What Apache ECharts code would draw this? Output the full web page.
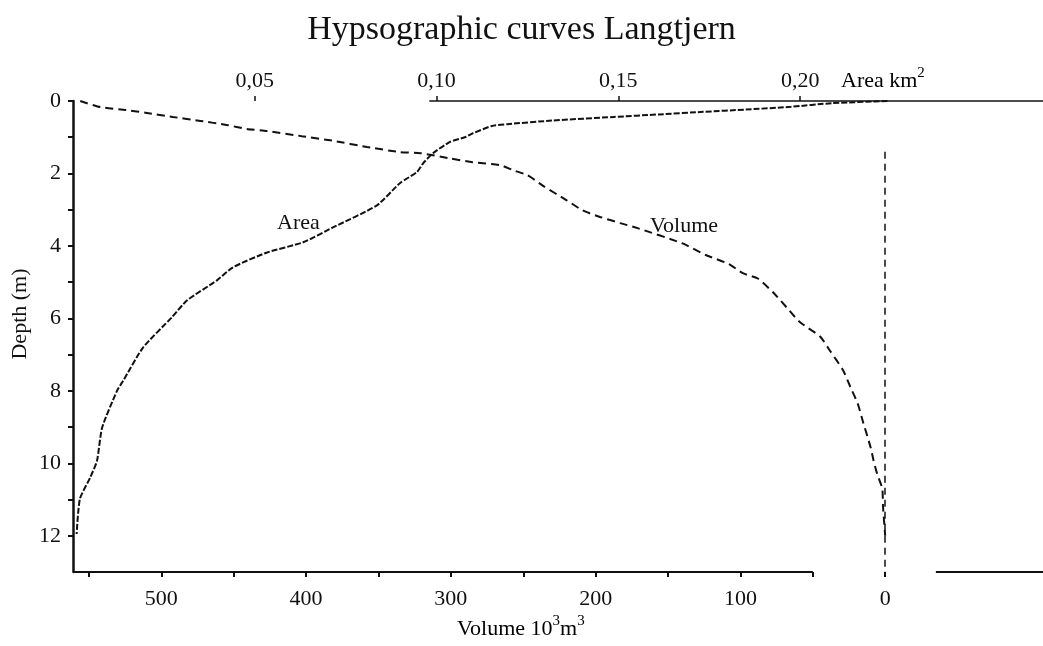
<!DOCTYPE html>
<html><head><meta charset="utf-8">
<script src="https://cdn.jsdelivr.net/npm/echarts@6/dist/echarts.min.js"></script>
<style>html,body{margin:0;padding:0;background:#fff}#c{width:1043px;height:646px}</style>
</head><body><div id="c"></div>
<script>
// ---- data ----
const depthTicks = [0,1,2,3,4,5,6,7,8,9,10,11,12];
const depthLabels = [0,2,4,6,8,10,12];
const areaTicks = [0.05,0.10,0.15,0.20];
const volumeTicks = [0,50,100,150,200,250,300,350,400,450,500,550];
const volumeLabels = [0,100,200,300,400,500];

// Area curve (km2) vs depth (m)
const areaKm2 =  [0.224,0.2087,0.1975,0.1851,0.1733,0.1612,0.1488,0.1317,0.1194,0.1152,0.110,0.1078,0.1037,0.099,0.0963,0.0946,0.0899,0.0836,0.0715,0.0633,0.0534,0.044,0.0396,0.0314,0.0272,0.0193,0.0138,0.0121,0.008,0.0066,0.0047,0.0019,0.001];
const areaDepth = [0,0.06,0.16,0.235,0.30,0.37,0.44,0.54,0.64,0.69,0.89,1.0,1.13,1.44,1.72,1.96,2.27,2.88,3.49,3.9,4.18,4.59,4.95,5.5,5.97,6.8,7.72,8.0,9.02,9.93,10.4,10.98,11.95];

// Volume curve (10^3 m3) vs depth (m)
const volume =      [556,542,524,510,492,473,455,441,427,403,381,358,335,321,301,285,266,257,247,236,220,209,197,183,171,140,124,108,98,88,77,68,59,45,38,29,24,19,15,10,8,5.5,2,1.5,0];
const volumeDepth = [0,0.17,0.25,0.33,0.44,0.55,0.66,0.77,0.83,0.97,1.1,1.27,1.41,1.44,1.58,1.69,1.77,1.91,2.05,2.35,2.74,3.02,3.2,3.37,3.51,3.93,4.25,4.5,4.76,4.9,5.3,5.7,6.1,6.5,6.9,7.44,7.9,8.35,8.9,9.57,9.93,10.3,10.7,11.2,12];

// ---- chart ----
const FONT = "'Liberation Serif','Times New Roman',serif";
const INK = '#111';
const chart = echarts.init(document.getElementById('c'), null, {renderer:'canvas'});
const fmtComma = v => Number(v).toFixed(2).replace('.', ',');
const supRich = {
  a:{fontFamily:FONT, fontSize:22, lineHeight:26, verticalAlign:'bottom', color:INK},
  s:{fontFamily:FONT, fontSize:15, lineHeight:15, verticalAlign:'top', color:INK}
};

chart.setOption({
  backgroundColor:'#fff',
  animation:false,
  title:{text:'Hypsographic curves Langtjern', left:'center', top:8,
    textStyle:{fontFamily:FONT, fontSize:34, fontWeight:'normal', color:INK}},
  grid:{left:73, right:0, top:101, bottom:74, containLabel:false},
  xAxis:[
    {type:'value', position:'bottom', inverse:true, min:-109, max:561,
     axisLine:{show:false, onZero:false},
     axisTick:{show:true, length:5, inside:false, lineStyle:{color:INK, width:2}, customValues:volumeTicks},
     axisLabel:{color:INK, fontFamily:FONT, fontSize:22, margin:16, customValues:volumeLabels},
     splitLine:{show:false}},
    {type:'value', position:'top', min:0, max:0.2668,
     axisLine:{show:false, onZero:false},
     axisTick:{show:true, length:5, lineStyle:{color:INK, width:1.5}, customValues:areaTicks},
     axisLabel:{color:INK, fontFamily:FONT, fontSize:22, margin:9, customValues:areaTicks, formatter:fmtComma},
     splitLine:{show:false}}
  ],
  yAxis:[{type:'value', inverse:true, min:0, max:13,
    axisLine:{show:true, onZero:false, lineStyle:{color:INK, width:2.5}},
    axisTick:{show:true, length:5, lineStyle:{color:INK, width:2}, customValues:depthTicks},
    axisLabel:{color:INK, fontFamily:FONT, fontSize:22, margin:12, customValues:depthLabels},
    splitLine:{show:false}}],
  series:[
    {name:'Area', type:'line', xAxisIndex:1, yAxisIndex:0, smooth:0.2, showSymbol:false,
     data: areaKm2.map((a,i)=>[a, areaDepth[i]]),
     lineStyle:{color:INK, width:2, type:[6,2]},
     markLine:{silent:true, symbol:['none','none'], label:{show:false},
       lineStyle:{color:INK, width:1.5, type:'solid'},
       data:[[{coord:[0.098,0]},{coord:[0.2668,0]}]]}},
    {name:'Volume', type:'line', xAxisIndex:0, yAxisIndex:0, smooth:0.2, showSymbol:false,
     data: volume.map((v,i)=>[v, volumeDepth[i]]),
     lineStyle:{color:INK, width:2, type:[8,5]},
     markLine:{silent:true, symbol:['none','none'], label:{show:false},
       data:[
         [{coord:[0,1.4], lineStyle:{color:INK, width:1.5, type:[7,5]}},{coord:[0,13]}],
         [{coord:[561,13], lineStyle:{color:INK, width:2, type:'solid'}},{coord:[50,13]}],
         [{coord:[-35,13], lineStyle:{color:INK, width:2, type:'solid'}},{coord:[-109,13]}]
       ]}}
  ],
  graphic:[
    {type:'text', left:841, top:66, style:{text:'{a|Area km}{s|2}', rich:supRich}},
    {type:'text', left:457, top:614, style:{text:'{a|Volume 10}{s|3}{a|m}{s|3}', rich:supRich}},
    {type:'text', x:20, y:314, rotation:Math.PI/2, style:{text:'Depth (m)', fontFamily:FONT, fontSize:22, fill:INK, align:'center', verticalAlign:'middle'}},
    {type:'text', left:277, top:212, style:{text:'Area', fontFamily:FONT, fontSize:22, fill:INK}},
    {type:'text', left:650, top:215, style:{text:'Volume', fontFamily:FONT, fontSize:22, fill:INK}}
  ]
});
</script></body></html>
